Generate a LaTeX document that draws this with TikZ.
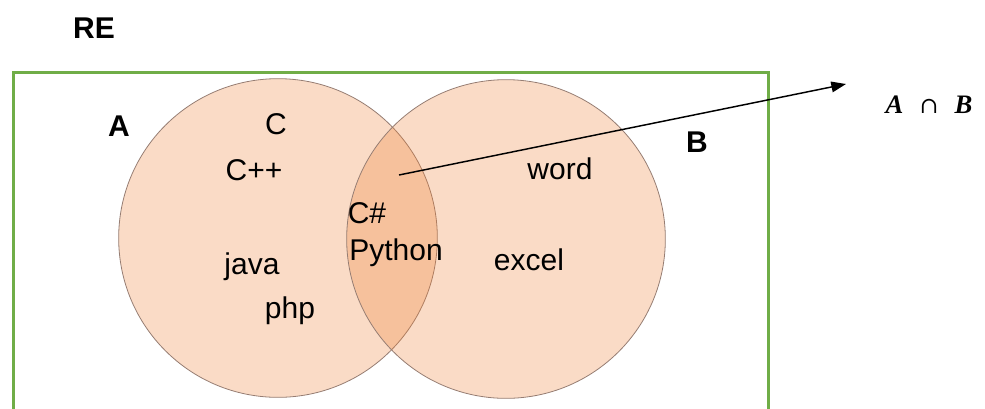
\documentclass[tikz,border=0pt]{standalone}
\usepackage{fontspec}
\setmainfont{Liberation Sans}
\newfontfamily\varfont{Liberation Serif}
\newfontfamily\symfont{DejaVu Serif}
\usetikzlibrary{arrows.meta}
\definecolor{vennfill}{HTML}{ED7D31}
\definecolor{framegreen}{HTML}{70AD47}
\definecolor{vennedge}{RGB}{150,125,115}
\begin{document}
\begin{tikzpicture}[x=0.75pt,y=-0.75pt,
  setcircle/.style={circle, inner sep=0pt, minimum size=239pt, fill=vennfill, fill opacity=0.28, draw=vennedge, draw opacity=1, line width=0.6pt},
  lbl/.style={font=\fontsize{22.5}{27}\selectfont, anchor=base, inner sep=0pt},
  boldlbl/.style={font=\fontsize{22.5}{27}\selectfont\bfseries, anchor=base, inner sep=0pt},
  arrowline/.style={line width=1.1pt, -{Triangle[length=11pt,width=8pt]}}
]
\useasboundingbox (0,0) rectangle (985,408);
\clip (0,0) rectangle (985,408);
% universe frame
\node[draw=framegreen, line width=2.25pt, anchor=north west, inner sep=0pt,
      minimum width=566.25pt, minimum height=300pt] (frame) at (12,71) {};
% sets
\node[setcircle] (setA) at (278,238) {};
\node[setcircle] (setB) at (506,239) {};
% titles
\node[boldlbl] (re) at (94,38) {RE};
\node[boldlbl] (labA) at (119,136) {A};
\node[boldlbl] (labB) at (697,152) {B};
% elements
\node[lbl] (c) at (276,134) {C};
\node[lbl] (cpp) at (254,180) {C++};
\node[lbl] (csharp) at (367,223) {C\#};
\node[lbl] (python) at (396,260) {Python};
\node[lbl] (java) at (252,274) {java};
\node[lbl] (php) at (290,318) {php};
\node[lbl] (word) at (560,179) {word};
\node[lbl] (excel) at (529,270) {excel};
% intersection label and arrow
\node[anchor=base, inner sep=0pt, font=\fontsize{20}{24}\selectfont] (inter) at (929,113)
  {{\varfont\bfseries\itshape A}\hspace{12pt}{\symfont\fontsize{17}{20}\selectfont ∩}\hspace{12pt}{\varfont\bfseries\itshape B}};
\coordinate (arrS) at (399,175);
\coordinate (arrE) at (846,84);
\draw[arrowline] (arrS) -- (arrE);
\end{tikzpicture}
\end{document}
